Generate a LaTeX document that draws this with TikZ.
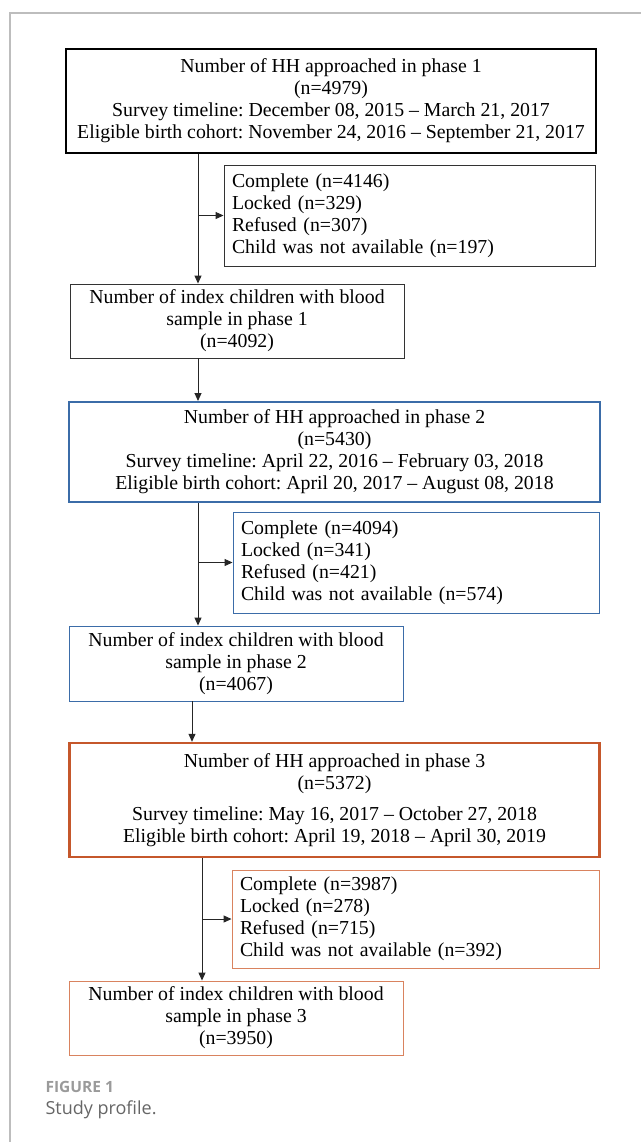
\documentclass[tikz,border=0pt]{standalone}
\usepackage{fontspec}
\setmainfont{Liberation Serif}
\newfontfamily\capfont{Open Sans}
\frenchspacing
\usetikzlibrary{positioning}
\usetikzlibrary{arrows.meta}
\definecolor{phaseblue}{HTML}{3B6CA8}
\definecolor{phaseorange}{HTML}{C5572B}
\definecolor{lightorange}{HTML}{D9835F}
\definecolor{framegray}{HTML}{BDBDBD}
\definecolor{capgray}{HTML}{9A9A9A}
\tikzset{
    boxtext/.style = {font=\fontsize{19.8bp}{22bp}\selectfont, text=black},
    hhbox/.style = {rectangle, boxtext, align=center, line width=2.4bp, draw=black, minimum width=530bp},
    hhboxb/.style = {hhbox, line width=2bp, draw=phaseblue},
    hhboxo/.style = {hhbox, line width=2.4bp, draw=phaseorange},
    exbox/.style = {rectangle, boxtext, align=left, line width=0.9bp, draw=black!80, inner xsep=8bp},
    exboxb/.style = {exbox, draw=phaseblue},
    exboxo/.style = {exbox, draw=lightorange},
    chbox/.style = {rectangle, boxtext, align=center, line width=0.9bp, draw=black!80, minimum width=334bp, minimum height=74bp},
    chboxb/.style = {chbox, draw=phaseblue},
    chboxo/.style = {chbox, draw=lightorange},
    flowline/.style = {-{Triangle[length=8bp,width=7bp]}, line width=1bp, black!85},
    captitle/.style = {anchor=west, text=capgray, font=\capfont\bfseries\fontsize{15.5bp}{18bp}\selectfont},
    captext/.style = {anchor=west, text=black!60, font=\capfont\fontsize{18bp}{22bp}\selectfont}
}

\begin{document}
\begin{tikzpicture}[x=1bp,y=-1bp]
\useasboundingbox (0,0) rectangle (641,1142);
% page frame
\draw[framegray, line width=1.2bp] (10,1142) -- (10,13) -- (641,13);
% phase 1
\node[hhbox, minimum height=104bp] at (331,101) (hh1) {Number of HH approached in phase 1\\(n=4979)\\Survey timeline: December 08, 2015 -- March 21, 2017\\Eligible birth cohort: November 24, 2016 -- September 21, 2017};
\node[exbox, text width=355bp, minimum height=101bp] at (409.5,215.5) (ex1) {Complete (n=4146)\\Locked (n=329)\\Refused (n=307)\\Child was not available (n=197)};
\node[chbox] at (237,321) (ch1) {Number of index children with blood\\sample in phase 1\\(n=4092)};
% phase 2
\node[hhboxb, minimum height=100bp] at (334.5,452) (hh2) {Number of HH approached in phase 2\\(n=5430)\\Survey timeline: April 22, 2016 -- February 03, 2018\\Eligible birth cohort: April 20, 2017 -- August 08, 2018};
\node[exboxb, text width=350bp, minimum height=101bp] at (416,562.5) (ex2) {Complete (n=4094)\\Locked (n=341)\\Refused (n=421)\\Child was not available (n=574)};
\node[chboxb, minimum height=75bp] at (236,663.5) (ch2) {Number of index children with blood\\sample in phase 2\\(n=4067)};
% phase 3
\node[hhboxo, minimum height=114bp] at (334.5,800) (hh3) {Number of HH approached in phase 3\\(n=5372)\\[9bp]Survey timeline: May 16, 2017 -- October 27, 2018\\Eligible birth cohort: April 19, 2018 -- April 30, 2019};
\node[exboxo, text width=351bp, minimum height=98bp] at (415.5,919) (ex3) {Complete (n=3987)\\Locked (n=278)\\Refused (n=715)\\Child was not available (n=392)};
\node[chboxo] at (236,1018) (ch3) {Number of index children with blood\\sample in phase 3\\(n=3950)};
% trunk lines
\coordinate (t1) at (198,0);
\coordinate (t2) at (192,0);
\coordinate (t3) at (202,0);
\draw[flowline] (hh1.south -| t1) -- (ch1.north -| t1);
\draw[flowline] (t1 |- ex1.west) -- (ex1.west);
\draw[flowline] (ch1.south -| t1) -- (hh2.north -| t1);
\draw[flowline] (hh2.south -| t1) -- (ch2.north -| t1);
\draw[flowline] (t1 |- ex2.west) -- (ex2.west);
\draw[flowline] (ch2.south -| t2) -- (hh3.north -| t2);
\draw[flowline] (hh3.south -| t3) -- (ch3.north -| t3);
\draw[flowline] (t3 |- ex3.west) -- (ex3.west);
% caption
\node[captitle] at (42,1087) (fig) {FIGURE 1};
\node[captext] at (42,1110) (cap) {Study profile.};
\end{tikzpicture}
\end{document}
